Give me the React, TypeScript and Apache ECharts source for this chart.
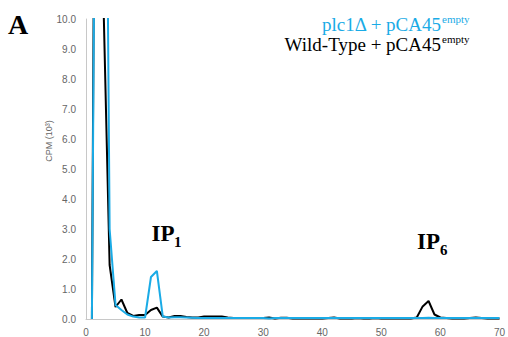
import React, { useEffect, useRef } from "react";
import * as echarts from "echarts";

const fractions: number[] = Array.from({ length: 70 }, (_, i) => i + 1);

const wildType: number[] = [
  0, 35, 10.2, 1.8, 0.4, 0.65, 0.2, 0.1, 0.13, 0.13,
  0.3, 0.38, 0.08, 0.05, 0.1, 0.1, 0.07, 0.05, 0.05, 0.08,
  0.08, 0.08, 0.08, 0.05, 0.03, 0.03, 0.03, 0.03, 0.03, 0.03,
  0.05, 0.02, 0.04, 0.04, 0.02, 0.02, 0.02, 0.02, 0.02, 0.02,
  0.03, 0.05, 0.02, 0.02, 0.02, 0.03, 0.02, 0.02, 0.03, 0.02,
  0.02, 0.02, 0.02, 0.02, 0.02, 0.05, 0.42, 0.6, 0.15, 0.05,
  0.03, 0.02, 0.02, 0.02, 0.03, 0.05, 0.03, 0.02, 0.02, 0.02,
];

const plc1: number[] = [
  0, 30, 28, 3.0, 0.47, 0.3, 0.15, 0.08, 0.05, 0.05,
  1.4, 1.6, 0.08, 0.05, 0.06, 0.06, 0.05, 0.04, 0.03, 0.03,
  0.03, 0.03, 0.03, 0.03, 0.03, 0.03, 0.03, 0.03, 0.03, 0.03,
  0.02, 0.03, 0.03, 0.03, 0.03, 0.03, 0.03, 0.03, 0.03, 0.03,
  0.03, 0.03, 0.03, 0.03, 0.03, 0.03, 0.03, 0.03, 0.03, 0.03,
  0.03, 0.03, 0.03, 0.03, 0.03, 0.03, 0.03, 0.04, 0.03, 0.03,
  0.03, 0.03, 0.03, 0.03, 0.03, 0.03, 0.03, 0.03, 0.03, 0.03,
];

const BLUE = "#1AABE6";
const SERIF = "'Liberation Serif', 'Times New Roman', serif";
const SANS = "'Liberation Sans', Arial, sans-serif";

export default function App() {
  const ref = useRef<HTMLDivElement>(null);
  useEffect(() => {
    if (!ref.current) return;
    const chart = echarts.init(ref.current, null, { renderer: "svg" });
    const pairs = (ys: number[]) => fractions.map((x, i) => [x, ys[i]]);
    chart.setOption({
      animation: false,
      backgroundColor: "#fff",
      grid: { left: 86, right: 6, top: 19, bottom: 18, containLabel: false },
      xAxis: {
        type: "value",
        min: 0,
        max: 70,
        interval: 10,
        axisLine: { show: true, lineStyle: { color: "#C8C8C8", width: 1 } },
        axisTick: { show: false },
        splitLine: { show: false },
        axisLabel: { color: "#666", fontSize: 10, fontFamily: SANS, margin: 8 },
      },
      yAxis: {
        type: "value",
        min: 0,
        max: 10,
        interval: 1,
        axisLine: { show: true, lineStyle: { color: "#C8C8C8", width: 1 } },
        axisTick: { show: false },
        splitLine: { show: false },
        axisLabel: {
          color: "#666",
          fontSize: 10,
          fontFamily: SANS,
          margin: 10,
          formatter: (v: number) => v.toFixed(1),
        },
      },
      series: [
        {
          name: "Wild-Type + pCA45empty",
          type: "line",
          data: pairs(wildType),
          showSymbol: false,
          clip: true,
          lineStyle: { color: "#000", width: 2 },
          itemStyle: { color: "#000" },
        },
        {
          name: "plc1Δ + pCA45empty",
          type: "line",
          data: pairs(plc1),
          showSymbol: false,
          clip: true,
          lineStyle: { color: BLUE, width: 2 },
          itemStyle: { color: BLUE },
        },
      ],
      graphic: [
        {
          type: "text",
          style: { x: 8, y: 24, text: "A", fontFamily: SERIF, fontWeight: "bold", fontSize: 28, fill: "#000", align: "left", verticalAlign: "middle" },
        },
        {
          type: "text",
          style: { x: 441, y: 24, text: "plc1Δ + pCA45", fontFamily: SERIF, fontSize: 19, fill: BLUE, align: "right", verticalAlign: "middle" },
        },
        {
          type: "text",
          style: { x: 442, y: 18.5, text: "empty", fontFamily: SERIF, fontSize: 11, fill: BLUE, align: "left", verticalAlign: "middle" },
        },
        {
          type: "text",
          style: { x: 441, y: 44, text: "Wild-Type + pCA45", fontFamily: SERIF, fontSize: 19, fill: "#000", align: "right", verticalAlign: "middle" },
        },
        {
          type: "text",
          style: { x: 442, y: 38.5, text: "empty", fontFamily: SERIF, fontSize: 11, fill: "#000", align: "left", verticalAlign: "middle" },
        },
        {
          type: "text",
          style: { x: 151.5, y: 233.5, text: "IP", fontFamily: SERIF, fontWeight: "bold", fontSize: 23, fill: "#000", align: "left", verticalAlign: "middle" },
        },
        {
          type: "text",
          style: { x: 174, y: 242, text: "1", fontFamily: SERIF, fontWeight: "bold", fontSize: 15, fill: "#000", align: "left", verticalAlign: "middle" },
        },
        {
          type: "text",
          style: { x: 417, y: 241.5, text: "IP", fontFamily: SERIF, fontWeight: "bold", fontSize: 23, fill: "#000", align: "left", verticalAlign: "middle" },
        },
        {
          type: "text",
          style: { x: 440, y: 250, text: "6", fontFamily: SERIF, fontWeight: "bold", fontSize: 15, fill: "#000", align: "left", verticalAlign: "middle" },
        },
        {
          type: "text",
          x: 49,
          y: 141,
          rotation: Math.PI / 2,
          style: { x: 0, y: 0, text: "CPM (10³)", fontFamily: SANS, fontSize: 9, fill: "#666", align: "center", verticalAlign: "middle" },
        },
      ],
    });
    return () => chart.dispose();
  }, []);
  return <div ref={ref} style={{ width: 508, height: 337, position: "fixed", left: 0, top: 0 }} />;
}
